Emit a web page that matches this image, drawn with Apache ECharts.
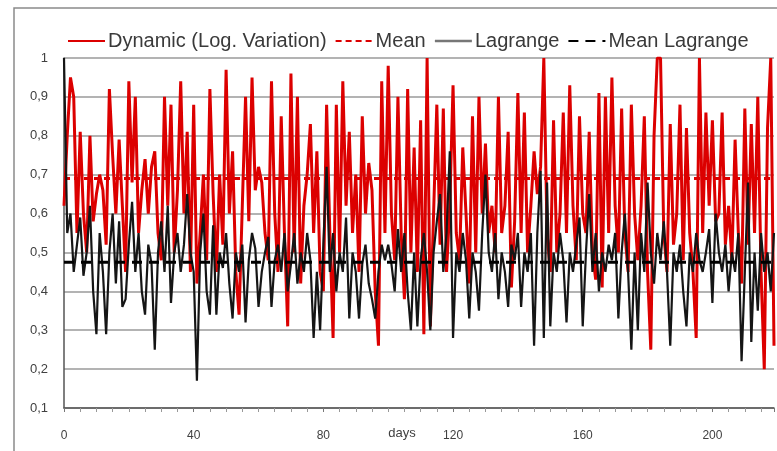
<!DOCTYPE html>
<html>
<head>
<meta charset="utf-8">
<script src="https://cdn.jsdelivr.net/npm/echarts@6/dist/echarts.min.js"></script>
<style>html,body{margin:0;padding:0;background:#fff}#c{width:777px;height:451px}</style>
</head>
<body>
<div id="c"></div>
<script>
// days 0..219
const dynamic = [
0.62,0.80,0.95,0.90,0.55,0.81,0.60,0.50,0.80,0.58,
0.65,0.70,0.66,0.52,0.92,0.75,0.60,0.79,0.62,0.45,
0.94,0.68,0.90,0.55,0.66,0.74,0.60,0.72,0.76,0.55,
0.48,0.90,0.62,0.88,0.50,0.66,0.94,0.60,0.81,0.45,
0.88,0.42,0.55,0.70,0.48,0.92,0.65,0.45,0.70,0.52,
0.97,0.60,0.76,0.45,0.34,0.62,0.90,0.58,0.95,0.66,
0.72,0.68,0.55,0.48,0.94,0.60,0.45,0.85,0.55,0.31,
0.96,0.50,0.90,0.42,0.62,0.70,0.83,0.55,0.76,0.45,
0.40,0.88,0.55,0.28,0.88,0.50,0.94,0.62,0.81,0.55,
0.70,0.45,0.85,0.60,0.73,0.66,0.40,0.26,0.94,0.55,
0.98,0.60,0.48,0.90,0.55,0.38,0.92,0.50,0.77,0.45,
0.84,0.29,1.00,0.31,0.60,0.88,0.52,0.87,0.45,0.62,
0.93,0.55,0.48,0.77,0.60,0.42,0.85,0.50,0.90,0.60,
0.78,0.55,0.62,0.50,0.90,0.55,0.62,0.81,0.41,0.58,
0.91,0.55,0.86,0.50,0.62,0.76,0.65,0.72,1.00,0.55,
0.45,0.84,0.50,0.60,0.86,0.55,0.93,0.62,0.48,0.85,
0.60,0.55,0.81,0.50,0.43,0.91,0.41,0.90,0.55,0.95,
0.62,0.50,0.87,0.55,0.45,0.88,0.60,0.48,0.62,0.85,
0.45,0.25,0.80,1.00,1.00,0.55,0.45,0.83,0.52,0.60,
0.88,0.48,0.82,0.55,0.45,0.28,1.00,0.55,0.86,0.62,
0.84,0.58,0.60,0.86,0.52,0.62,0.48,0.79,0.55,0.42,
0.87,0.52,0.83,0.55,0.90,0.45,0.20,0.82,1.00,0.26
];
const lagrange = [
1.00,0.55,0.60,0.45,0.52,0.59,0.44,0.50,0.62,0.40,
0.29,0.55,0.45,0.29,0.50,0.60,0.42,0.58,0.36,0.38,
0.52,0.63,0.45,0.55,0.40,0.34,0.52,0.47,0.25,0.50,
0.58,0.45,0.62,0.37,0.50,0.55,0.45,0.52,0.65,0.50,
0.45,0.17,0.50,0.60,0.40,0.34,0.57,0.34,0.50,0.46,
0.55,0.42,0.33,0.50,0.45,0.52,0.32,0.48,0.55,0.51,
0.36,0.45,0.50,0.54,0.36,0.48,0.52,0.45,0.55,0.40,
0.47,0.55,0.42,0.50,0.45,0.55,0.48,0.28,0.45,0.30,
0.52,0.72,0.45,0.55,0.40,0.50,0.45,0.59,0.33,0.50,
0.45,0.33,0.47,0.52,0.42,0.38,0.33,0.45,0.52,0.48,
0.52,0.47,0.40,0.56,0.45,0.55,0.40,0.30,0.50,0.31,
0.48,0.55,0.45,0.30,0.50,0.58,0.65,0.45,0.55,0.76,
0.28,0.50,0.45,0.55,0.48,0.33,0.50,0.45,0.35,0.55,
0.70,0.50,0.45,0.55,0.38,0.50,0.45,0.36,0.52,0.48,
0.55,0.36,0.50,0.45,0.55,0.26,0.55,0.71,0.28,0.68,
0.31,0.50,0.45,0.55,0.48,0.32,0.50,0.45,0.52,0.59,
0.31,0.50,0.65,0.45,0.55,0.40,0.50,0.45,0.52,0.48,
0.55,0.33,0.50,0.60,0.45,0.25,0.50,0.30,0.55,0.45,
0.68,0.50,0.42,0.55,0.48,0.58,0.45,0.26,0.50,0.45,
0.52,0.40,0.31,0.50,0.45,0.55,0.48,0.45,0.50,0.56,
0.37,0.60,0.50,0.45,0.52,0.40,0.50,0.45,0.55,0.22,
0.45,0.68,0.27,0.50,0.35,0.55,0.45,0.50,0.40,0.55
];
const meanDynamic = 0.69;
const meanLagrange = 0.475;
const xTickLabels = [0, 40, 80, 120, 160, 200];
const yTickLabels = ['0,1','0,2','0,3','0,4','0,5','0,6','0,7','0,8','0,9','1'];

const days = dynamic.map((_, i) => i);
const pairs = arr => arr.map((v, i) => [days[i], v]);
const constLine = m => days.map(d => [d, m]);

const chart = echarts.init(document.getElementById('c'), null, {renderer: 'canvas'});
const font = 'Liberation Sans';
chart.setOption({
  animation: false,
  backgroundColor: '#fff',
  graphic: [{
    type: 'rect', shape: {x: 14, y: 8, width: 900, height: 600},
    style: {fill: 'none', stroke: '#8a8a8a', lineWidth: 1.5}, silent: true, z: -1
  }],
  legend: {
    top: 26, left: 62,
    itemWidth: 37, itemHeight: 12, itemGap: 8,
    itemStyle: {color: 'rgba(0,0,0,0)', borderColor: 'rgba(0,0,0,0)', borderWidth: 0},
    textStyle: {fontFamily: font, fontSize: 20, color: '#3a3a3a', padding: [0, 0, 0, -2]},
    data: [
      {name: 'Dynamic (Log. Variation)'},
      {name: 'Mean'},
      {name: 'Lagrange', lineStyle: {color: '#777', width: 2.5}},
      {name: 'Mean Lagrange'}
    ]
  },
  grid: {left: 64, right: 3, top: 58, bottom: 43, outerBoundsMode: 'none', containLabel: false},
  xAxis: {
    type: 'value', min: 0, max: 219, interval: 40,
    name: 'days', nameLocation: 'middle', nameGap: 19, nameMoveOverlap: false,
    nameTextStyle: {fontFamily: font, fontSize: 13, color: '#404040', padding: [0, 34, 0, 0]},
    axisLine: {show: true, lineStyle: {color: '#555', width: 1.5}},
    axisTick: {show: true, length: 4, inside: false, lineStyle: {color: '#777'}},
    minorTick: {show: true, splitNumber: 8, length: 4, lineStyle: {color: '#999'}},
    axisLabel: {
      margin: 22, fontFamily: font, fontSize: 12, color: '#404040',
      formatter: v => xTickLabels.includes(v) ? String(v) : ''
    },
    splitLine: {show: false}
  },
  yAxis: {
    type: 'value', min: 0.1, max: 1, interval: 0.1,
    axisLine: {show: true, lineStyle: {color: '#555', width: 1.5}},
    axisTick: {show: false},
    axisLabel: {
      margin: 16, fontFamily: font, fontSize: 13, color: '#404040',
      formatter: v => yTickLabels[Math.round(v * 10) - 1]
    },
    splitLine: {show: true, lineStyle: {color: '#9a9a9a', width: 1.5}}
  },
  series: [
    {name: 'Dynamic (Log. Variation)', type: 'line', data: pairs(dynamic), showSymbol: false, symbol: 'none',
     lineStyle: {color: '#dc0000', width: 3}, itemStyle: {color: '#dc0000'}, z: 2},
    {name: 'Mean', type: 'line', data: constLine(meanDynamic), showSymbol: false, symbol: 'none',
     lineStyle: {color: '#dc0000', width: 3, type: [6, 4]}, itemStyle: {color: '#dc0000'}, z: 3},
    {name: 'Lagrange', type: 'line', data: pairs(lagrange), showSymbol: false, symbol: 'none',
     lineStyle: {color: '#151515', width: 2.2}, itemStyle: {color: '#151515'}, z: 4},
    {name: 'Mean Lagrange', type: 'line', data: constLine(meanLagrange), showSymbol: false, symbol: 'none',
     lineStyle: {color: '#000', width: 3, type: [10, 7]}, itemStyle: {color: '#000'}, z: 5}
  ]
});
</script>
</body>
</html>
